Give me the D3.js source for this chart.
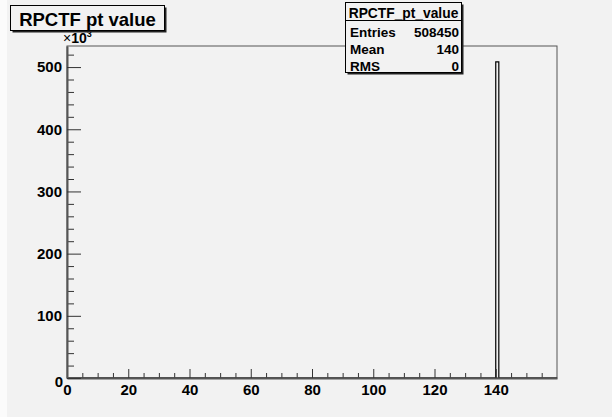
<!DOCTYPE html>
<html>
<head>
<meta charset="utf-8">
<script src="https://cdn.jsdelivr.net/npm/d3@7"></script>
<style>
  html, body { margin: 0; padding: 0; background: #f2f2f2; }
  svg { display: block; }
  text { font-family: "Liberation Sans", Arial, Helvetica, sans-serif; font-weight: bold; fill: #000; }
</style>
</head>
<body>
<svg id="chart" width="612" height="417"></svg>
<script>
// Histogram of RPCTF pt value: one filled bin
const binLowEdges = [140];
const binWidth = 1;
const binCounts = [508450];          // entries per bin
const xMajorTicks = [0, 20, 40, 60, 80, 100, 120, 140];
const yMajorTicks = [0, 100, 200, 300, 400, 500];   // in units of 10^3
const statNames = ["Entries", "Mean", "RMS"];
const statValues = ["508450", "140", "0"];
const histName = "RPCTF_pt_value";
const histTitle = "RPCTF pt value";

const xMin = 0, xMax = 160;
const yMax = d3.max(binCounts) * 1.05 / 1000;

const svg = d3.select("#chart");
const frameL = 67, frameR = 557, frameT = 46, frameB = 378;

// canvas: light margin strip on the left, grey pad elsewhere
svg.append("rect").attr("x", 0).attr("y", 0).attr("width", 7).attr("height", 417).attr("fill", "#fbfbfb");

const x = d3.scaleLinear().domain([xMin, xMax]).range([frameL, frameR]);
const y = d3.scaleLinear().domain([0, yMax]).range([frameB, frameT]);

// frame
svg.append("rect")
  .attr("x", frameL).attr("y", frameT)
  .attr("width", frameR - frameL).attr("height", frameB - frameT)
  .attr("fill", "none").attr("stroke", "#555").attr("stroke-width", 1);

// histogram outline
const pts = [[xMin, 0]];
binLowEdges.forEach((lo, i) => {
  const v = binCounts[i] / 1000;
  pts.push([lo, 0], [lo, v], [lo + binWidth, v], [lo + binWidth, 0]);
});
pts.push([xMax, 0]);
svg.append("path")
  .attr("d", d3.line().x(d => x(d[0])).y(d => y(d[1]))(pts))
  .attr("fill", "none").attr("stroke", "#000").attr("stroke-width", 1.2);

// x axis: minor ticks, then major ticks with labels
const xMinor = d3.range(xMin, xMax, 5).filter(v => v % 20 !== 0 && v > xMin);
svg.append("g").attr("transform", `translate(0,${frameB})`)
  .call(d3.axisBottom(x).tickValues(xMinor).tickSize(-5).tickFormat(""))
  .call(g => g.select(".domain").remove());
const gx = svg.append("g").attr("transform", `translate(0,${frameB})`)
  .call(d3.axisBottom(x).tickValues(xMajorTicks).tickSize(-9).tickSizeOuter(0).tickPadding(6).tickFormat(d3.format("d")));
gx.select(".domain").attr("stroke", "#555").attr("stroke-width", 2);
gx.selectAll("text").attr("font-size", "15px").attr("fill", "#000");

// y axis
const yMinor = d3.range(20, yMax, 20).filter(v => v % 100 !== 0);
svg.append("g").attr("transform", `translate(${frameL},0)`)
  .call(d3.axisLeft(y).tickValues(yMinor).tickSize(-7).tickFormat(""))
  .call(g => g.select(".domain").remove());
const gy = svg.append("g").attr("transform", `translate(${frameL},0)`)
  .call(d3.axisLeft(y).tickValues(yMajorTicks).tickSize(-14).tickSizeOuter(0).tickPadding(5).tickFormat(d3.format("d")));
gy.select(".domain").attr("stroke", "#555").attr("stroke-width", 2);
gy.selectAll("text").attr("font-size", "15px").attr("fill", "#000");
gy.selectAll(".tick").filter(d => d === 0).select("text").attr("dy", "0.55em").attr("x", -4);
svg.selectAll(".tick line").attr("stroke", "#333");

// exponent label
const expo = svg.append("text").attr("x", 63).attr("y", 43).attr("font-size", "14px");
expo.append("tspan").attr("font-weight", "normal").text("\u00d7");
expo.append("tspan").text("10");
expo.append("tspan").attr("dy", -6).attr("font-size", "9px").text("3");

// title box with shadow
function shadowBox(x0, y0, w, h) {
  svg.append("rect").attr("x", x0 + 2).attr("y", y0 + 2).attr("width", w).attr("height", h).attr("fill", "#222");
  svg.append("rect").attr("x", x0).attr("y", y0).attr("width", w).attr("height", h)
    .attr("fill", "#f2f2f2").attr("stroke", "#000").attr("stroke-width", 1);
}
shadowBox(10.5, 5.5, 154, 25);
svg.append("text").attr("x", 87.5).attr("y", 26).attr("text-anchor", "middle")
  .attr("font-size", "18.5px").text(histTitle);

// statistics box
const sx = 345.5, sy = 2.5, sw = 116, sh = 70;
shadowBox(sx, sy, sw, sh);
svg.append("line").attr("x1", sx).attr("x2", sx + sw).attr("y1", 20.5).attr("y2", 20.5).attr("stroke", "#000");
svg.append("text").attr("x", sx + sw / 2).attr("y", 17.5).attr("text-anchor", "middle")
  .attr("font-size", "13.8px").text(histName);
statNames.forEach((n, i) => {
  const by = 37 + i * 16.8;
  svg.append("text").attr("x", 350).attr("y", by).attr("font-size", "13.5px").text(n);
  svg.append("text").attr("x", 459).attr("y", by).attr("text-anchor", "end").attr("font-size", "13.5px").text(statValues[i]);
});
</script>
</body>
</html>
